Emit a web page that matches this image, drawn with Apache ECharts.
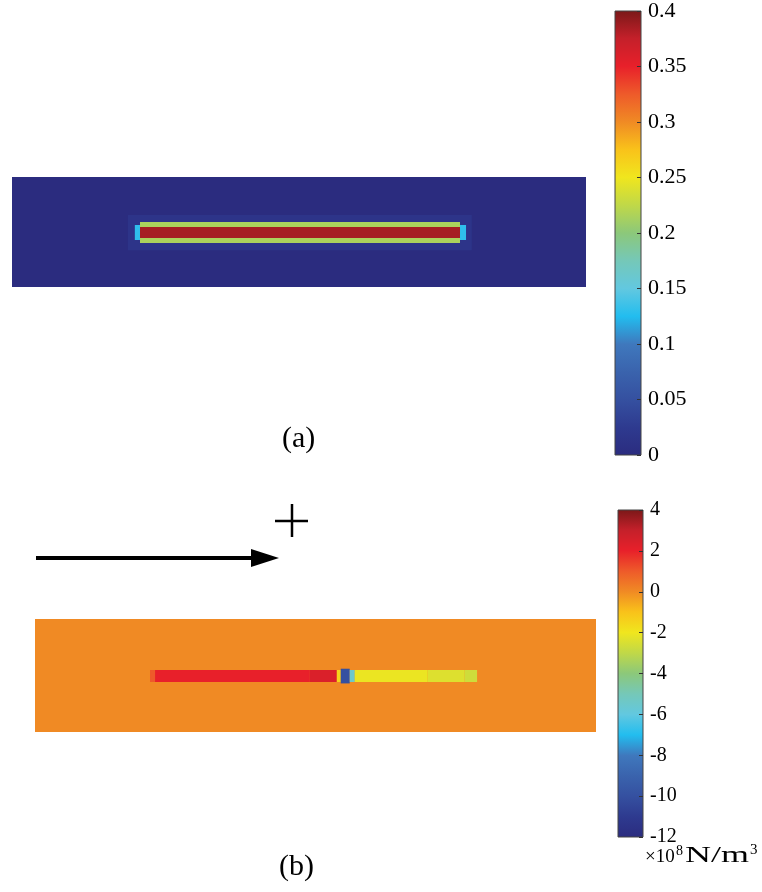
<!DOCTYPE html>
<html>
<head>
<meta charset="utf-8">
<script src="https://cdn.jsdelivr.net/npm/echarts@6/dist/echarts.min.js"></script>
<style>html,body{margin:0;padding:0;background:#fff;}#c{width:762px;height:892px;}</style>
</head>
<body>
<div id="c"></div>
<script>
// ---- data ----
// colour map (low -> high)
const colormap = ['#2b2c7f','#2e3a8f','#3550a0','#3a63ad','#3f78bd','#22bdef','#62c8e0','#75c8b8','#8cc87a','#c0d848','#f0e61e','#f9c21a','#f08a24','#ee5a2a','#e8202a','#c4202a','#7a1818'];
// panel (a): regions of the field [x0, x1, y0, y1, value]; domain 0..100 x 0..20
const fieldA = [
  [0, 100, 0, 20, 0.0],
  [20.2, 80.1, 6.7, 13.1, 0.015],
  [21.4, 79.1, 8.55, 11.27, 0.13],
  [22.3, 78.05, 8.0, 11.82, 0.215],
  [22.3, 78.05, 8.9, 10.91, 0.385]
];
// panel (b): regions of the field [x0, x1, y0, y1, value]; domain 0..100 x 0..20
const fieldB = [
  [0, 100, 0, 20, 0.0],
  [20.5, 21.4, 8.85, 10.97, 1.0],
  [21.4, 49.0, 8.85, 10.97, 2.0],
  [49.0, 53.8, 8.85, 10.97, 2.4],
  [53.8, 54.5, 8.85, 10.97, -1.5],
  [54.5, 56.1, 8.6, 11.2, -10],
  [56.1, 57.0, 8.85, 10.97, -5.5],
  [57.0, 70.0, 8.85, 10.97, -2.1],
  [70.0, 76.6, 8.85, 10.97, -2.4],
  [76.6, 78.8, 8.85, 10.97, -2.7]
];
const rangeA = [0, 0.4];
const stepA = 0.05;
const rangeB = [-12, 4];
const stepB = 2;

// ---- chart ----
const serif = "'Liberation Serif','Times New Roman',serif";
const chart = echarts.init(document.getElementById('c'), null, {renderer: 'canvas'});

function fieldRender(params, api) {
  const p0 = api.coord([api.value(0), api.value(3)]);
  const p1 = api.coord([api.value(1), api.value(2)]);
  return {type: 'rect', shape: {x: p0[0], y: p0[1], width: p1[0] - p0[0], height: p1[1] - p0[1]},
          style: {fill: api.visual('color')}};
}
function barRender(params, api) {
  const p0 = api.coord([api.value(0), api.value(3)]);
  const p1 = api.coord([api.value(1), api.value(2)]);
  const n = colormap.length;
  const stops = colormap.map((c, i) => ({offset: i / (n - 1), color: colormap[n - 1 - i]}));
  return {type: 'rect', shape: {x: p0[0], y: p0[1], width: p1[0] - p0[0], height: p1[1] - p0[1]},
          style: {fill: {type: 'linear', x: 0, y: 0, x2: 0, y2: 1, colorStops: stops}, stroke: '#444', lineWidth: 1}};
}

const hiddenX = (min, max, gi) => ({type: 'value', gridIndex: gi, min: min, max: max, show: false});
const cbarY = (r, step, gi, fs) => ({type: 'value', gridIndex: gi, min: r[0], max: r[1], interval: step, position: 'right',
  z: 10,
  axisLine: {show: false, onZero: false}, splitLine: {show: false},
  axisTick: {show: true, inside: true, length: 4, lineStyle: {color: '#333', width: 1}},
  axisLabel: {color: '#000', fontFamily: serif, fontSize: fs, margin: 7}});

chart.setOption({
  animation: false,
  backgroundColor: '#fff',
  grid: [
    {left: 12, top: 177, width: 574, height: 110},
    {left: 615, top: 9, width: 26, height: 446},
    {left: 35, top: 619, width: 561, height: 113},
    {left: 618, top: 510, width: 25, height: 327}
  ],
  xAxis: [hiddenX(0, 100, 0), hiddenX(0, 1, 1), hiddenX(0, 100, 2), hiddenX(0, 1, 3)],
  yAxis: [
    {type: 'value', gridIndex: 0, min: 0, max: 20, show: false},
    cbarY(rangeA, stepA, 1, 22),
    {type: 'value', gridIndex: 2, min: 0, max: 20, show: false},
    cbarY(rangeB, stepB, 3, 20)
  ],
  visualMap: [
    {type: 'continuous', show: false, min: rangeA[0], max: rangeA[1], dimension: 4, seriesIndex: 0, inRange: {color: colormap}},
    {type: 'continuous', show: false, min: rangeB[0], max: rangeB[1], dimension: 4, seriesIndex: 2, inRange: {color: colormap}}
  ],
  series: [
    {type: 'custom', xAxisIndex: 0, yAxisIndex: 0, data: fieldA, renderItem: fieldRender, encode: {x: [0, 1], y: [2, 3]}, silent: true, z: 1},
    {type: 'custom', xAxisIndex: 1, yAxisIndex: 1, data: [[0, 1, rangeA[0], rangeA[1]]], renderItem: barRender, encode: {x: [0, 1], y: [2, 3]}, silent: true, z: 1},
    {type: 'custom', xAxisIndex: 2, yAxisIndex: 2, data: fieldB, renderItem: fieldRender, encode: {x: [0, 1], y: [2, 3]}, silent: true, z: 1},
    {type: 'custom', xAxisIndex: 3, yAxisIndex: 3, data: [[0, 1, rangeB[0], rangeB[1]]], renderItem: barRender, encode: {x: [0, 1], y: [2, 3]}, silent: true, z: 1}
  ],
  graphic: [
    {type: 'text', left: 282, top: 424, style: {text: '(a)', font: '30px ' + serif, fill: '#000'}},
    {type: 'text', left: 279, top: 852, style: {text: '(b)', font: '30px ' + serif, fill: '#000'}},
    {type: 'line', shape: {x1: 36, y1: 558, x2: 256, y2: 558}, style: {stroke: '#000', lineWidth: 4}},
    {type: 'polygon', shape: {points: [[251, 549], [279, 558], [251, 567]]}, style: {fill: '#000'}},
    {type: 'line', shape: {x1: 275, y1: 521, x2: 308, y2: 521}, style: {stroke: '#000', lineWidth: 2.5}},
    {type: 'line', shape: {x1: 292, y1: 504, x2: 292, y2: 537}, style: {stroke: '#000', lineWidth: 2.5}},
    {type: 'text', x: 645, y: 867, style: {text: '×10', font: '19px ' + serif, fill: '#000', verticalAlign: 'bottom'}},
    {type: 'text', x: 676, y: 858, style: {text: '8', font: '14px ' + serif, fill: '#000', verticalAlign: 'bottom'}},
    {type: 'text', x: 685, y: 868, scaleX: 1.5, style: {text: 'N/m', font: '24px ' + serif, fill: '#000', verticalAlign: 'bottom'}},
    {type: 'text', x: 750, y: 858, style: {text: '3', font: '15px ' + serif, fill: '#000', verticalAlign: 'bottom'}}
  ]
});
</script>
</body>
</html>
